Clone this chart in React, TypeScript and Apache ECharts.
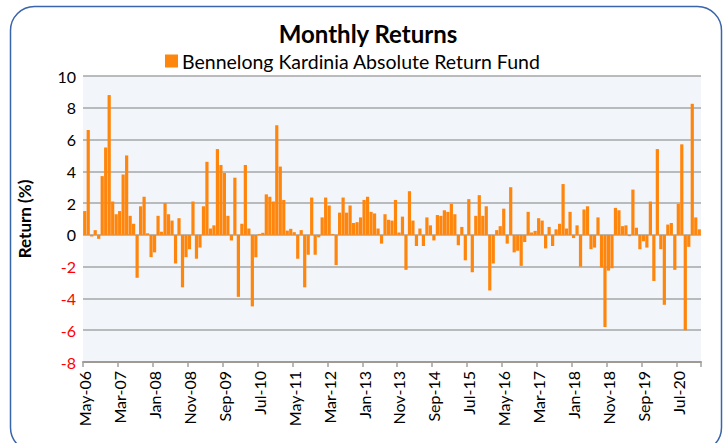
import React, { useEffect, useRef } from "react";
import * as echarts from "echarts";

const monthNames = ["Jan", "Feb", "Mar", "Apr", "May", "Jun", "Jul", "Aug", "Sep", "Oct", "Nov", "Dec"];
const startYear = 2006;
const startMonthIndex = 4; // May

const seriesName = "Bennelong Kardinia Absolute Return Fund";
const titleText = "Monthly Returns";
const yAxisName = "Return (%)";

const returns: number[] = [
  1.5, 6.6, -0.1, 0.3, -0.25, 3.7, 5.5, 8.8, 2.1, 1.3,
  1.5, 3.8, 5.0, 1.2, 0.7, -2.7, 1.8, 2.4, 0.1, -1.4,
  -1.1, 1.2, 0.2, 2.0, 1.3, 0.9, -1.8, 1.05, -3.3, -1.4,
  -0.9, 2.1, -1.5, -0.8, 1.8, 4.6, 0.4, 0.6, 5.4, 4.4,
  3.9, 1.2, -0.35, 3.6, -3.9, 0.7, 4.4, 0.4, -4.5, -1.4,
  0.06, 0.13, 2.55, 2.4, 2.1, 6.9, 4.3, 2.2, 0.27, 0.38,
  0.17, -1.5, 0.3, -3.3, -1.25, 2.35, -1.25, -0.15, 1.1, 2.35,
  1.85, 0.06, -1.9, 1.4, 2.35, 1.4, 1.85, 0.75, 0.8, 1.1,
  2.2, 2.4, 1.45, 1.35, 0.4, -0.55, 1.3, 0.95, 0.9, 2.2,
  0.15, 1.15, -2.2, 2.75, 0.9, -0.7, 0.4, -0.7, 1.1, 0.6,
  -0.35, 1.25, 1.2, 1.55, 1.45, 1.95, 1.3, -0.65, 0.5, -1.6,
  2.25, -2.35, 1.2, 2.5, 1.2, 1.8, -3.5, -1.8, 0.3, 0.55,
  1.65, -0.55, 3.0, -1.1, -1.0, -1.95, -0.45, 1.45, 0.15, 0.25,
  1.05, 0.9, -0.85, 0.5, -0.7, 0.35, 0.7, 3.2, 0.4, 1.45,
  -0.2, 0.6, -2.0, 1.6, 1.8, -0.9, -0.8, 1.1, -2.05, -5.8,
  -2.25, -2.1, 1.7, 1.55, 0.55, 0.6, -0.08, 2.85, 0.45, -0.9,
  -0.4, -0.8, 2.1, -2.9, 5.4, -0.9, -4.4, 0.65, 0.75, -2.2,
  1.95, 5.7, -6.0, -0.75, 8.25, 1.1, 0.35,
];

const categories: string[] = returns.map((_, i) => {
  const t = startMonthIndex + i;
  const m = t % 12;
  const y = (startYear + Math.floor(t / 12)) % 100;
  return `${monthNames[m]}-${String(y).padStart(2, "0")}`;
});

const yMin = -8;
const yMax = 10;
const yStep = 2;

const FONT = "Lato, 'Noto Sans', sans-serif";

export default function App() {
  const ref = useRef<HTMLDivElement>(null);

  useEffect(() => {
    document.body.style.margin = "0";
    if (!ref.current) return;
    const chart = echarts.init(ref.current, undefined, { renderer: "svg" });
    chart.setOption({
      animation: false,
      backgroundColor: "#ffffff",
      textStyle: { fontFamily: FONT },
      legend: {
        data: [seriesName],
        left: 160,
        top: 46,
        itemWidth: 13,
        itemHeight: 13,
        itemGap: 6,
        icon: "rect",
        textStyle: { fontSize: 19.5, color: "#000", fontFamily: FONT, padding: [0, 0, 0, -1] },
      },
      graphic: [
        {
          type: "rect",
          z: -10,
          shape: { x: 10.5, y: 6.5, width: 711, height: 445, r: 24 },
          style: { fill: "none", stroke: "#3a64ab", lineWidth: 1.5 },
        },
        {
          type: "text",
          x: 368,
          y: 33,
          style: {
            text: titleText,
            fill: "#000",
            font: `bold 24px ${FONT}`,
            textAlign: "center",
            textVerticalAlign: "middle",
          },
        },
      ],
      grid: {
        left: 83,
        right: 23,
        top: 76,
        bottom: 81,
        show: true,
        backgroundColor: "#f2f5fa",
        borderWidth: 0,
      },
      xAxis: [
        {
          type: "category",
          data: categories,
          position: "bottom",
          axisLine: { show: false },
          axisTick: { show: false },
          splitLine: { show: false },
          axisLabel: {
            interval: 9,
            rotate: 90,
            fontSize: 16,
            color: "#000",
            margin: 9,
            fontFamily: FONT,
          },
        },
        {
          type: "category",
          data: categories,
          position: "bottom",
          axisLine: { show: true, onZero: true, lineStyle: { color: "#a09a93", width: 2 } },
          axisTick: { show: true, interval: 9, length: 5, lineStyle: { color: "#a0a0a0", width: 1.5 } },
          axisLabel: { show: false },
          splitLine: { show: false },
        },
      ],
      yAxis: {
        type: "value",
        min: yMin,
        max: yMax,
        interval: yStep,
        name: yAxisName,
        nameLocation: "middle",
        nameRotate: 90,
        nameGap: 50,
        nameTextStyle: { fontSize: 17, fontWeight: "bold", color: "#000", fontFamily: FONT },
        axisLine: { show: false },
        axisTick: { show: false },
        splitLine: { show: true, lineStyle: { color: "#a6a6a6", width: 1.5 } },
        axisLabel: {
          fontSize: 16,
          margin: 7,
          fontFamily: FONT,
          formatter: (v: number) => (v < 0 ? `{n|${v}}` : `{p|${v}}`),
          rich: {
            n: { color: "#ff0000", fontSize: 16, fontFamily: FONT },
            p: { color: "#000000", fontSize: 16, fontFamily: FONT },
          },
        },
      },
      series: [
        {
          name: seriesName,
          type: "bar",
          xAxisIndex: 0,
          data: returns,
          barCategoryGap: "8%",
          itemStyle: { color: "#ff860d" },
        },
      ],
    });
    return () => chart.dispose();
  }, []);

  return <div ref={ref} style={{ width: 724, height: 443 }} />;
}
